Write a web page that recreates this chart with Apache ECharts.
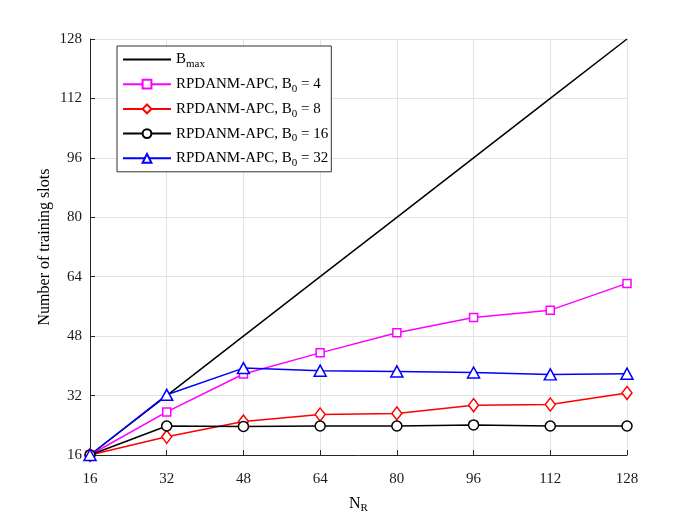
<!DOCTYPE html>
<html>
<head>
<meta charset="utf-8">
<script src="https://cdn.jsdelivr.net/npm/echarts@6/dist/echarts.min.js"></script>
<style>html,body{margin:0;padding:0;background:#fff;}#c{width:692px;height:519px;}</style>
</head>
<body>
<div id="c"></div>
<script>
const nR = [16, 32, 48, 64, 80, 96, 112, 128];
const bmax = [16, 32, 48, 64, 80, 96, 112, 128];
const b0_4 = [16, 27.6, 37.8, 43.5, 48.9, 53.0, 55.0, 62.2];
const b0_8 = [16, 20.9, 25.0, 26.9, 27.2, 29.4, 29.6, 32.7];
const b0_16 = [16, 23.8, 23.7, 23.8, 23.8, 24.1, 23.8, 23.8];
const b0_32 = [16, 32.2, 39.4, 38.7, 38.5, 38.2, 37.7, 37.9];
const ticks = [16, 32, 48, 64, 80, 96, 112, 128];

const font = 'Liberation Serif';
const chart = echarts.init(document.getElementById('c'));
const pair = a => nR.map((x, i) => [x, a[i]]);
const legendLabels = {
  'Bmax': '{t|B}{s|max}',
  'B0=4': '{t|RPDANM-APC, B}{s|0}{t| = 4}',
  'B0=8': '{t|RPDANM-APC, B}{s|0}{t| = 8}',
  'B0=16': '{t|RPDANM-APC, B}{s|0}{t| = 16}',
  'B0=32': '{t|RPDANM-APC, B}{s|0}{t| = 32}'
};
function mk(name, data, color, symbol, size) {
  return {
    name: name, type: 'line', data: pair(data),
    symbol: symbol, symbolSize: size, showSymbol: symbol !== 'none',
    lineStyle: {color: color, width: 1.5},
    itemStyle: {color: '#fff', borderColor: color, borderWidth: 1.5},
    emphasis: {disabled: true}, animation: false
  };
}
chart.setOption({
  backgroundColor: '#fff',
  animation: false,
  grid: {left: 90, right: 65, top: 39, bottom: 57},
  legend: {
    orient: 'vertical', left: 117, top: 46,
    backgroundColor: '#fff', borderColor: '#333', borderWidth: 1,
    padding: [3, 3, 3, 5], itemGap: 3.7, itemWidth: 48, itemHeight: 11,
    formatter: n => legendLabels[n],
    textStyle: {
      fontFamily: font, color: '#000', fontSize: 15,
      rich: {
        t: {fontFamily: font, fontSize: 15, color: '#000', lineHeight: 16},
        s: {fontFamily: font, fontSize: 11, color: '#000', padding: [10, 0, 0, 0], lineHeight: 10}
      }
    },
    data: [
      {name: 'Bmax', itemStyle: {opacity: 0}},
      'B0=4', 'B0=8', 'B0=16', 'B0=32'
    ]
  },
  xAxis: {
    type: 'value', min: 16, max: 128, interval: 16,
    name: '{n|N}{s|R}', nameLocation: 'middle', nameGap: 38,
    nameTextStyle: {rich: {
      n: {fontFamily: font, fontSize: 16, color: '#000'},
      s: {fontFamily: font, fontSize: 11, color: '#000', padding: [10, 0, 0, 0]}
    }},
    axisLine: {lineStyle: {color: '#262626', width: 1}},
    axisTick: {inside: true, length: 5, lineStyle: {color: '#262626'}},
    axisLabel: {fontFamily: font, fontSize: 15, color: '#1a1a1a', margin: 17},
    splitLine: {show: true, lineStyle: {color: '#e3e3e3', width: 1}}
  },
  yAxis: {
    type: 'value', min: 16, max: 128, interval: 16,
    name: 'Number of training slots', nameLocation: 'middle', nameGap: 37,
    nameMoveOverlap: false,
    nameTextStyle: {fontFamily: font, fontSize: 16, color: '#000'},
    axisLine: {show: true, lineStyle: {color: '#262626', width: 1}},
    axisTick: {show: true, inside: true, length: 5, lineStyle: {color: '#262626'}},
    axisLabel: {fontFamily: font, fontSize: 15, color: '#1a1a1a', margin: 8},
    splitLine: {show: true, lineStyle: {color: '#e3e3e3', width: 1}}
  },
  series: [
    mk('Bmax', bmax, '#000', 'none', 0),
    mk('B0=4', b0_4, '#ff00ff', 'rect', 8),
    mk('B0=8', b0_8, '#ff0000', 'diamond', [10, 13]),
    mk('B0=16', b0_16, '#000', 'circle', 10),
    mk('B0=32', b0_32, '#0000ff', 'triangle', [12, 11])
  ]
});
</script>
</body>
</html>
